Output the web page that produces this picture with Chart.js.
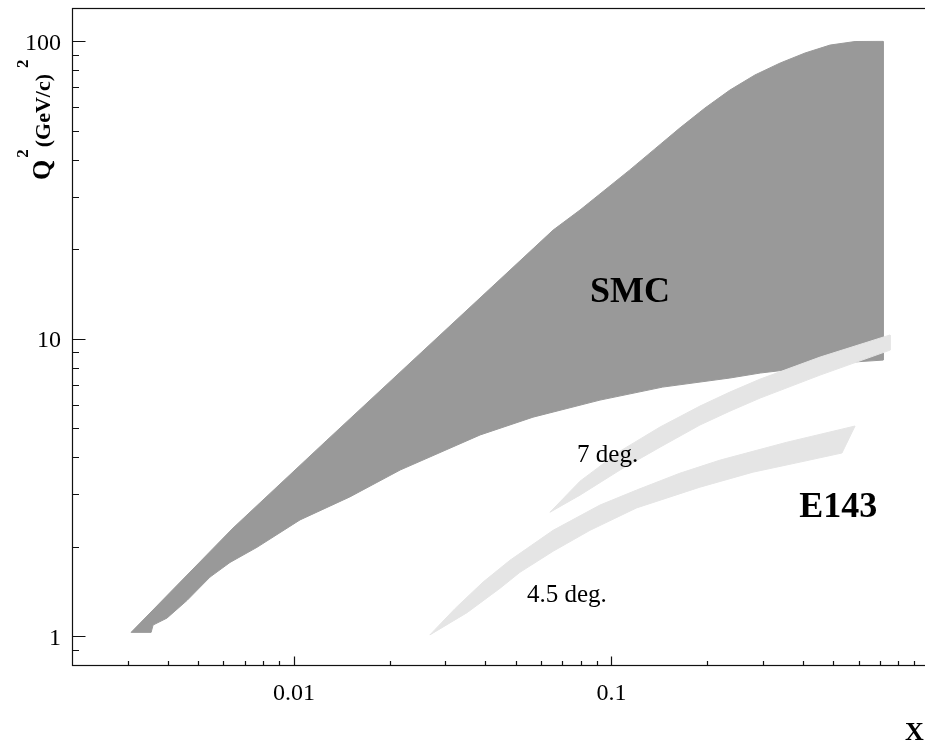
<!DOCTYPE html>
<html>
<head>
<meta charset="utf-8">
<script src="https://cdn.jsdelivr.net/npm/chart.js@4.4.1/dist/chart.umd.min.js"></script>
<style>
  html, body { margin: 0; padding: 0; background: #fff; overflow: hidden; }
  canvas { display: block; }
</style>
</head>
<body>
<canvas id="kinChart" width="940" height="742"></canvas>
<script>
// outlines of the covered regions, [x, Q^2] pairs walked round the edge
const smcRegion = [
  [0.00307, 1.03], [0.00643, 2.31], [0.0127, 4.56], [0.0655, 23.2], [0.0796, 27.1],
  [0.114, 36.9], [0.137, 43.5], [0.164, 51.1], [0.197, 59.7], [0.236, 68.6],
  [0.283, 77.1], [0.340, 84.6], [0.407, 91.4], [0.488, 97.2], [0.585, 99.9], [0.717, 100],
  [0.717, 8.48],
  [0.576, 8.35], [0.294, 7.67], [0.236, 7.38], [0.145, 6.88], [0.092, 6.22],
  [0.0566, 5.45], [0.0386, 4.75], [0.0216, 3.62], [0.0150, 2.94], [0.01045, 2.46],
  [0.00765, 1.99], [0.00629, 1.77], [0.00544, 1.58], [0.00461, 1.32], [0.00398, 1.15],
  [0.00360, 1.09], [0.00355, 1.03], [0.00307, 1.03]
];
const e143Deg7 = [
  [0.064, 2.61], [0.0796, 3.32], [0.1064, 4.19], [0.1422, 5.05], [0.190, 5.94],
  [0.236, 6.62], [0.294, 7.32], [0.454, 8.68], [0.754, 10.3],
  [0.754, 9.16],
  [0.454, 7.55], [0.294, 6.32], [0.236, 5.71], [0.190, 5.13], [0.1422, 4.32],
  [0.1064, 3.62], [0.0796, 2.98], [0.064, 2.61]
];
const e143Deg45 = [
  [0.0268, 1.01], [0.0322, 1.24], [0.0394, 1.52], [0.0479, 1.80], [0.0655, 2.27],
  [0.092, 2.76], [0.120, 3.10], [0.164, 3.53], [0.220, 3.91], [0.357, 4.49], [0.585, 5.09],
  [0.532, 4.13],
  [0.393, 3.85], [0.279, 3.56], [0.190, 3.17], [0.120, 2.70], [0.0856, 2.27],
  [0.0655, 1.93], [0.0515, 1.64], [0.0446, 1.45], [0.0351, 1.20], [0.0268, 1.01]
];

const xTickValues = [0.01, 0.1, 1];
const xTickLabels = ['0.01', '0.1', '1'];
const yTickValues = [1, 10, 100];
const yTickLabels = ['1', '10', '100'];

// text placed inside the frame: [x, Q^2] of the baseline start
const regionTexts = ['SMC', 'E143', '7 deg.', '4.5 deg.'];
const regionTextPos = [[0.0856, 13.3], [0.390, 2.51], [0.0779, 3.85], [0.0542, 1.30]];
const regionTextBold = [true, true, false, false];

const SERIF = '"Liberation Serif", "Times New Roman", serif';

function pts(arr) {
  return arr.map(p => ({x: p[0], y: p[1]}));
}

function area(label, arr, color, order) {
  return {
    label: label,
    data: pts(arr),
    showLine: true,
    fill: 'shape',
    backgroundColor: color,
    borderColor: color,
    borderWidth: 1,
    pointRadius: 0,
    tension: 0,
    order: order
  };
}

// frame, inward ticks, tick labels and axis titles
const framePlugin = {
  id: 'frame',
  afterDraw(chart) {
    const ctx = chart.ctx;
    const ca = chart.chartArea;
    const xs = chart.scales.x, ys = chart.scales.y;
    const L = Math.round(ca.left) + 0.5, B = Math.round(ca.bottom) + 0.5;
    const T = Math.round(ca.top) + 0.5, R = Math.round(ca.right) + 0.5;

    ctx.save();
    ctx.strokeStyle = '#111';
    ctx.lineWidth = 1.2;
    ctx.strokeRect(L, T, R - L, B - T);

    ctx.beginPath();
    // x ticks along the bottom
    for (let d = -3; d <= 0; d++) {
      for (let k = 1; k <= 9; k++) {
        const v = k * Math.pow(10, d);
        if (v <= xs.min * 1.0001 || v > xs.max * 1.0001) continue;
        const px = Math.round(xs.getPixelForValue(v)) + 0.5;
        const len = k === 1 ? 9 : 4.5;
        ctx.moveTo(px, B);
        ctx.lineTo(px, B - len);
      }
    }
    // y ticks along the left side
    for (let d = -1; d <= 2; d++) {
      for (let k = 1; k <= 9; k++) {
        const v = k * Math.pow(10, d);
        if (v < ys.min || v > ys.max) continue;
        const py = Math.round(ys.getPixelForValue(v)) + 0.5;
        const len = k === 1 ? 13 : 6.5;
        ctx.moveTo(L, py);
        ctx.lineTo(L + len, py);
      }
    }
    ctx.stroke();

    ctx.fillStyle = '#000';
    ctx.font = '24px ' + SERIF;
    ctx.textAlign = 'center';
    ctx.textBaseline = 'alphabetic';
    xTickValues.forEach((v, i) => {
      ctx.fillText(xTickLabels[i], xs.getPixelForValue(v), 700);
    });
    ctx.textAlign = 'right';
    yTickValues.forEach((v, i) => {
      ctx.fillText(yTickLabels[i], 61, ys.getPixelForValue(v) + 8.5);
    });

    // region names
    ctx.textAlign = 'left';
    regionTexts.forEach((t, i) => {
      const p = regionTextPos[i];
      ctx.font = regionTextBold[i] ? 'bold 36px ' + SERIF : '25px ' + SERIF;
      ctx.fillText(t, xs.getPixelForValue(p[0]), ys.getPixelForValue(p[1]));
    });

    // axis titles
    ctx.font = 'bold 26px ' + SERIF;
    ctx.fillText('X', 905, 740);

    ctx.translate(50, 180);
    ctx.rotate(-Math.PI / 2);
    const parts = [
      {t: 'Q', size: 26, up: 0, gap: 2},
      {t: '2', size: 17, up: 22, gap: 2},
      {t: '(GeV/c)', size: 22, up: 0, gap: 6},
      {t: '2', size: 17, up: 22, gap: 0}
    ];
    let cx = 0;
    parts.forEach(p => {
      ctx.font = 'bold ' + p.size + 'px ' + SERIF;
      ctx.fillText(p.t, cx, -p.up);
      cx += ctx.measureText(p.t).width + p.gap;
    });
    ctx.restore();
  }
};

new Chart(document.getElementById('kinChart'), {
  type: 'scatter',
  data: {
    datasets: [
      area('E143 4.5 deg.', e143Deg45, '#e5e5e5', 1),
      area('E143 7 deg.', e143Deg7, '#e5e5e5', 1),
      area('SMC', smcRegion, '#999999', 2)
    ]
  },
  options: {
    responsive: false,
    animation: false,
    layout: {padding: {left: 72, top: 7.5, right: 11, bottom: 77}},
    plugins: {
      legend: {display: false},
      tooltip: {enabled: false}
    },
    scales: {
      x: {type: 'logarithmic', min: 0.002, max: 1, display: false},
      y: {type: 'logarithmic', min: 0.8, max: 130, display: false}
    }
  },
  plugins: [framePlugin]
});
</script>
</body>
</html>
